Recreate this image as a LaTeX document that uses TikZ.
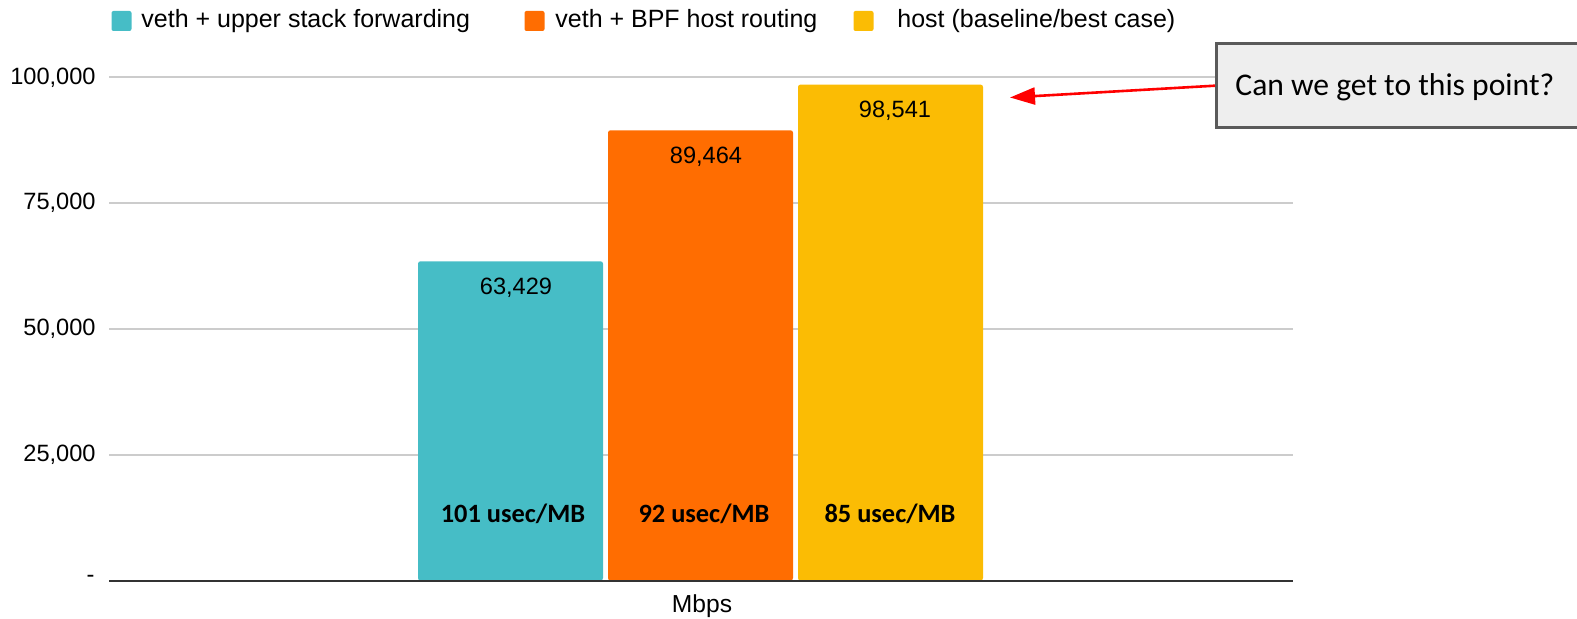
\documentclass[tikz,border=0pt]{standalone}
\usepackage{fontspec}
\setmainfont{Liberation Sans}
\newfontfamily\calibri{Carlito}
\usetikzlibrary{arrows.meta}
\definecolor{tealbar}{HTML}{46BDC6}
\definecolor{orangebar}{HTML}{FF6D01}
\definecolor{yellowbar}{HTML}{FBBC04}
\definecolor{gridgray}{HTML}{CCCCCC}
\definecolor{axisgray}{HTML}{333333}
\definecolor{boxgray}{HTML}{5A5A5A}
\definecolor{boxfill}{HTML}{EEEEEE}

\begin{document}
\begin{tikzpicture}[x=0.5pt,y=-0.5pt,
  every node/.style={inner sep=0pt},
  gridline/.style={gridgray,line width=0.8pt},
  baseline/.style={axisgray,line width=1pt},
  ticklabel/.style={anchor=east,font=\fontsize{11.8}{14}\selectfont},
  legendtext/.style={anchor=west,font=\fontsize{12.5}{15}\selectfont},
  swatch/.style={minimum size=10pt,rounded corners=1pt},
  bar/.style={rounded corners=1.2pt},
  valuelabel/.style={font=\fontsize{11.8}{14}\selectfont},
  costlabel/.style={font=\calibri\bfseries\fontsize{13.2}{16}\selectfont},
  calloutbox/.style={draw=boxgray,fill=boxfill,line width=1.5pt,minimum width=200pt,minimum height=42.2pt},
  callouttext/.style={anchor=west,font=\calibri\fontsize{15.8}{19}\selectfont},
  pointer/.style={red,line width=1.3pt,-{Triangle[length=12.5pt,width=8.5pt]}}]
\useasboundingbox (0,0) rectangle (1577,619);
\clip (0,0) rectangle (1577,619);
% legend
\node[swatch,fill=tealbar] (keyteal) at (121.5,21) {};
\node[legendtext] (txtteal) at (141,21) {veth + upper stack forwarding};
\node[swatch,fill=orangebar] (keyorange) at (534.5,21) {};
\node[legendtext] (txtorange) at (555,21) {veth + BPF host routing};
\node[swatch,fill=yellowbar] (keyyellow) at (863.5,21) {};
\node[legendtext] (txtyellow) at (897,21) {host (baseline/best case)};
% grid and axis labels
\draw[gridline] (109,77.3) -- (1293,77.3);
\draw[gridline] (109,203.1) -- (1293,203.1);
\draw[gridline] (109,328.9) -- (1293,328.9);
\draw[gridline] (109,454.7) -- (1293,454.7);
\node[ticklabel] (tick100) at (96,77.3) {100,000};
\node[ticklabel] (tick75) at (96,203.1) {75,000};
\node[ticklabel] (tick50) at (96,328.9) {50,000};
\node[ticklabel] (tick25) at (96,454.7) {25,000};
\node[ticklabel] (tick0) at (95,579) {-};
% bars
\fill[bar,tealbar] (418,261.3) rectangle (603,580.5);
\fill[bar,orangebar] (608,130.3) rectangle (793,580.5);
\fill[bar,yellowbar] (798,84.6) rectangle (983,580.5);
\draw[baseline] (109,580.5) -- (1293,580.5);
% values
\node[valuelabel] (valteal) at (516,288) {63,429};
\node[valuelabel] (valorange) at (706,157) {89,464};
\node[valuelabel] (valyellow) at (895,110.5) {98,541};
\node[costlabel] (costteal) at (513,514) {101 usec/MB};
\node[costlabel] (costorange) at (704,514) {92 usec/MB};
\node[costlabel] (costyellow) at (890,514) {85 usec/MB};
\node[font=\fontsize{12.3}{15}\selectfont] (xlabel) at (702,606) {Mbps};
% callout
\node[calloutbox,anchor=north west] (ask) at (1215,42) {};
\node[callouttext] (asktext) at (1235,87.5) {Can we get to this point?};
\coordinate (target) at (1010,97.5);
\draw[pointer] (ask.west) -- (target);
\end{tikzpicture}
\end{document}
